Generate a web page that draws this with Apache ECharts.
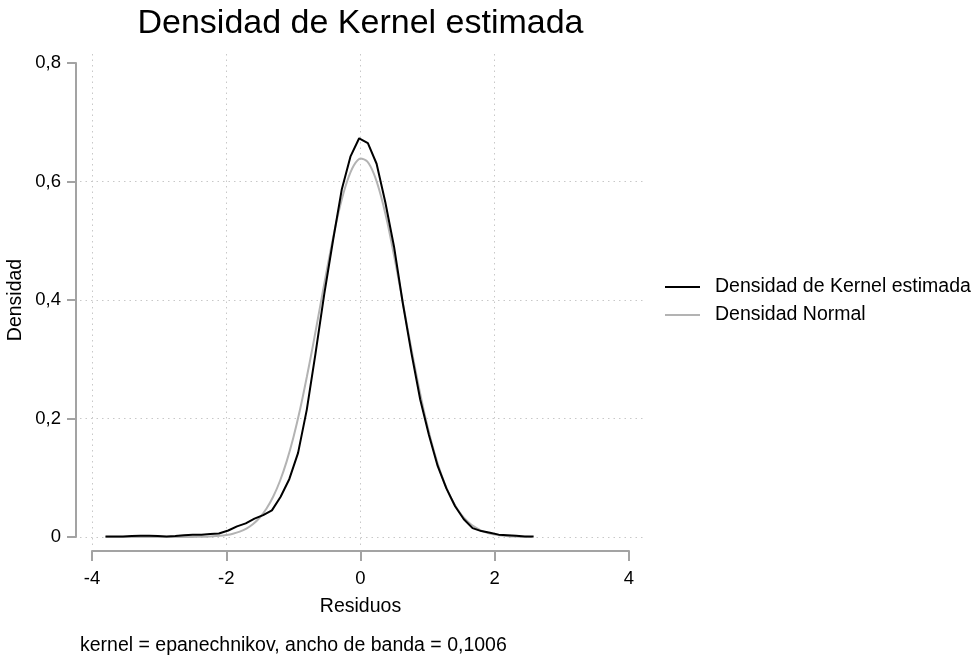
<!DOCTYPE html>
<html>
<head>
<meta charset="utf-8">
<script src="https://cdn.jsdelivr.net/npm/echarts@6/dist/echarts.min.js"></script>
<style>html,body{margin:0;padding:0;background:#fff}#c{width:979px;height:658px}</style>
</head>
<body>
<div id="c"></div>
<script>
// Kernel density estimate (Epanechnikov)
const kdeX = [-3.80,-3.67,-3.54,-3.41,-3.28,-3.15,-3.02,-2.89,-2.76,-2.63,-2.50,-2.37,-2.24,-2.11,-1.97,-1.84,-1.71,-1.58,-1.45,-1.32,-1.19,-1.06,-0.93,-0.80,-0.67,-0.54,-0.41,-0.28,-0.15,-0.02,0.11,0.24,0.37,0.50,0.63,0.76,0.89,1.02,1.15,1.28,1.41,1.54,1.67,1.80,1.93,2.06,2.19,2.32,2.45,2.58];
const kdeY = [0.001,0.001,0.001,0.0015,0.002,0.002,0.0015,0.001,0.0015,0.003,0.004,0.004,0.005,0.006,0.011,0.018,0.023,0.031,0.037,0.045,0.068,0.098,0.142,0.215,0.31,0.41,0.50,0.586,0.642,0.673,0.665,0.630,0.565,0.49,0.395,0.31,0.232,0.172,0.12,0.082,0.052,0.030,0.015,0.010,0.007,0.004,0.003,0.002,0.001,0.001];
// Normal density
const normX = [-3.8,-3.0,-2.6,-2.5,-2.4,-2.3,-2.2,-2.1,-2.0,-1.9,-1.8,-1.7,-1.6,-1.5,-1.4,-1.3,-1.2,-1.1,-1.0,-0.9,-0.8,-0.7,-0.6,-0.5,-0.4,-0.3,-0.2,-0.1,0.0,0.1,0.2,0.3,0.4,0.5,0.6,0.7,0.8,0.9,1.0,1.1,1.2,1.3,1.4,1.5,1.6,1.7,1.8,1.9,2.0,2.1,2.2,2.3,2.4,2.55];
const normY = [0,0,0.0001,0.0002,0.0003,0.0006,0.0011,0.0020,0.0034,0.0056,0.0091,0.0143,0.022,0.0329,0.048,0.0683,0.0945,0.1276,0.168,0.2155,0.270,0.3284,0.390,0.4516,0.510,0.5603,0.600,0.627,0.639,0.634,0.613,0.5778,0.531,0.475,0.415,0.3529,0.293,0.2364,0.186,0.143,0.107,0.0779,0.0554,0.0384,0.0259,0.017,0.0109,0.0068,0.0042,0.0025,0.0014,0.0008,0.0004,0.0002];
// Tick values / labels
const xTicks = [-4,-2,0,2,4];
const yTicks = [0,0.2,0.4,0.6,0.8];
const xGridLines = [-4,-2,0,2];
const yGridLines = [0,0.2,0.4,0.6];
const seriesNames = ['Densidad de Kernel estimada','Densidad Normal'];
const seriesColors = ['#000000','#b3b3b3'];
const titleText = 'Densidad de Kernel estimada';
const noteText = 'kernel = epanechnikov, ancho de banda = 0,1006';

const FONT = '"Liberation Sans", Arial, sans-serif';
const axisGray = '#a3a3a3';
const chart = echarts.init(document.getElementById('c'), null, {renderer:'canvas'});

const gridLineStyle = {color:'#c8c8c8', width:1, type:[1.5,4]};
const markLineData = xGridLines.map(v => ({xAxis:v})).concat(yGridLines.map(v => ({yAxis:v})));

const option = {
  animation:false,
  backgroundColor:'#fff',
  textStyle:{fontFamily:FONT},
  legend:{
    orient:'vertical', left:665, top:277, padding:0, itemWidth:35, itemHeight:2, itemGap:8,
    icon:'rect',
    data:seriesNames.map((n,i) => ({name:n, icon:'rect', itemStyle:{color:seriesColors[i]}})),
    textStyle:{fontFamily:FONT, fontSize:19.5, color:'#000', padding:[0,0,0,10]}
  },
  grid:[
    {left:80, width:565, top:50, height:495},
    {left:92, width:537, top:550, height:1},
    {left:76, width:1, top:63, height:474}
  ],
  xAxis:[
    {gridIndex:0, type:'value', min:-4.18, max:4.24, show:false},
    {gridIndex:1, type:'value', min:-4, max:4, interval:2, position:'bottom',
     axisLine:{show:true, lineStyle:{color:axisGray, width:2}},
     axisTick:{show:true, length:10, lineStyle:{color:axisGray, width:2}},
     splitLine:{show:false},
     axisLabel:{show:true, margin:18, fontFamily:FONT, fontSize:18.5, color:'#000', formatter:v => String(v)},
     name:'Residuos', nameLocation:'middle', nameGap:46,
     nameTextStyle:{fontFamily:FONT, fontSize:19.5, color:'#000'}
    },
    {gridIndex:2, type:'value', show:false}
  ],
  yAxis:[
    {gridIndex:0, type:'value', min:-0.0135, max:0.822, show:false},
    {gridIndex:1, type:'value', show:false},
    {gridIndex:2, type:'value', min:0, max:0.8, interval:0.2, position:'left',
     axisLine:{show:true, lineStyle:{color:axisGray, width:2}},
     axisTick:{show:true, length:9, lineStyle:{color:axisGray, width:2}},
     splitLine:{show:false},
     axisLabel:{show:true, margin:15, fontFamily:FONT, fontSize:18.5, color:'#000',
       formatter:v => (Math.round(v*10)/10).toString().replace('.', ',')},
     name:'Densidad', nameLocation:'middle', nameGap:50, nameRotate:90,
     nameTextStyle:{fontFamily:FONT, fontSize:19.5, color:'#000'}
    }
  ],
  graphic:[
    {type:'text', x:360.5, y:7, style:{text:titleText, font:'34px ' + FONT, fill:'#000', textAlign:'center', textVerticalAlign:'top'}},
    {type:'text', x:80, y:636, style:{text:noteText, font:'19.5px ' + FONT, fill:'#000'}}
  ],
  series:[
    {
      name:seriesNames[0], type:'line', xAxisIndex:0, yAxisIndex:0,
      data:kdeX.map((x,i) => [x, kdeY[i]]),
      symbol:'none', showSymbol:false,
      lineStyle:{color:seriesColors[0], width:2},
      itemStyle:{color:seriesColors[0]},
      markLine:{silent:true, symbol:'none', label:{show:false}, lineStyle:gridLineStyle, data:markLineData, z:0},
      z:3
    },
    {
      name:seriesNames[1], type:'line', xAxisIndex:0, yAxisIndex:0,
      data:normX.map((x,i) => [x, normY[i]]),
      symbol:'none', showSymbol:false, smooth:0.3,
      lineStyle:{color:seriesColors[1], width:2},
      itemStyle:{color:seriesColors[1]},
      z:2
    }
  ]
};
chart.setOption(option);
</script>
</body>
</html>
